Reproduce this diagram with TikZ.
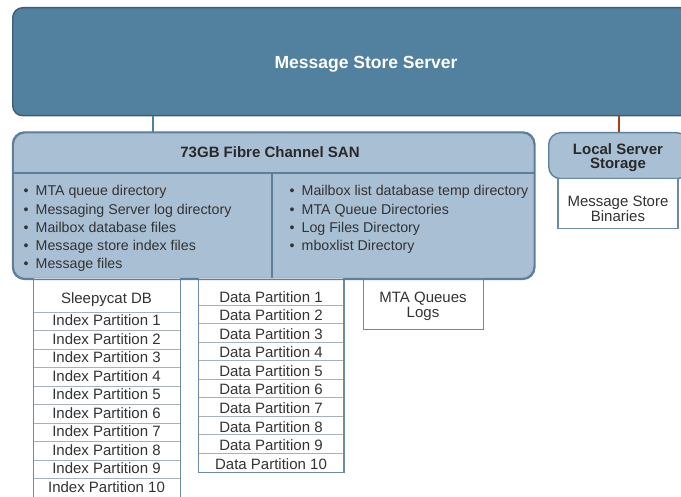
\documentclass[tikz,border=0pt]{standalone}
\usepackage{fontspec}
\setmainfont{Liberation Sans}
\definecolor{srvfill}{HTML}{52809F}
\definecolor{srvedge}{HTML}{3A5E78}
\definecolor{sanfill}{HTML}{A9BFD4}
\definecolor{sanedge}{HTML}{5E7F9B}
\definecolor{coledge}{HTML}{6A8AA8}
\definecolor{rowsep}{HTML}{A8B0B8}
\definecolor{txt}{HTML}{333333}
\definecolor{linkblue}{HTML}{4F81A5}
\definecolor{linkred}{HTML}{AC3F1A}
\begin{document}
\begin{tikzpicture}[x=1pt,y=-1pt,
  serverbox/.style={draw=srvedge, fill=srvfill, line width=1.4pt, rounded corners=10pt, inner sep=0pt},
  storebox/.style={draw=sanedge, fill=sanfill, line width=1.4pt, rounded corners=12pt, inner sep=0pt},
  plainbox/.style={draw=coledge, fill=white, line width=1.3pt, inner sep=0pt},
  sepline/.style={draw=rowsep, line width=0.9pt},
  coledgeline/.style={draw=coledge, line width=1.3pt},
  title/.style={text=white, font=\fontsize{17.5}{20}\selectfont\bfseries},
  head/.style={text=txt!80!black, font=\fontsize{15}{14.5}\selectfont\bfseries, align=center, inner sep=0pt},
  item/.style={text=txt, font=\fontsize{14.2}{17}\selectfont, inner sep=0pt},
  cell/.style={text=txt, font=\fontsize{15}{15}\selectfont, inner sep=0pt, align=center},
  link/.style={line width=2.6pt},
]
\useasboundingbox (0,0) rectangle (681,497);
\clip (0,0) rectangle (681,497);

% server box across the top
\node[serverbox, anchor=north west, minimum width=708pt, minimum height=108pt] (server) at (12,7) {};
\node[title] (servertitle) at (366,64) {Message Store Server};

% SAN box with header and two bullet panels
\node[storebox, anchor=north west, minimum width=521pt, minimum height=146pt] (san) at (12.5,132) {};
\coordinate (sanhead) at (0,173);
\draw[draw=sanedge, line width=1.2pt] (san.west |- sanhead) -- (san.east |- sanhead);
\coordinate (sandiv) at (272,173);
\draw[draw=sanedge, line width=1.2pt] (sandiv) -- (sandiv |- san.south);
\node[head] (santitle) at (270,152) {73GB Fibre Channel SAN};

\foreach \t [count=\i] in {MTA queue directory, Messaging Server log directory, Mailbox database files, Message store index files, Message files}
  \node[item, anchor=base west] (la\i) at (23.5,{177.8+18.2*\i}) {\makebox[12pt][l]{\textbullet}\t};
\foreach \t [count=\i] in {Mailbox list database temp directory, MTA Queue Directories, Log Files Directory, mboxlist Directory}
  \node[item, anchor=base west] (ra\i) at (289.5,{177.8+18.2*\i}) {\makebox[12pt][l]{\textbullet}\t};

% local server storage
\node[storebox, anchor=north west, minimum width=140pt, minimum height=46pt] (local) at (548,132) {};
\node[head] (localtitle) at (618,157.5) {Local Server\\Storage};
\node[plainbox, anchor=north, minimum width=120pt, minimum height=50pt] (bin) at (618,178) {};
\node[cell] (bintext) at (618,208.5) {Message Store\\Binaries};

% connectors from the server
\coordinate (santap) at (153,132);
\draw[link, linkblue] (server.south -| santap) -- (santap);
\coordinate (localtap) at (619,132);
\draw[link, linkred] (server.south -| localtap) -- (localtap);

% index partition column
\coordinate (ixl) at (33.5,278);
\coordinate (ixr) at (180.5,278);
\fill[white] (ixl) rectangle (180.5,500);
\draw[sepline] (33.5,312) -- (180.5,312);
\foreach \i in {1,...,9}
  \draw[sepline] (33.5,{312+18.5*\i}) -- (180.5,{312+18.5*\i});
\draw[coledgeline] (ixl) -- (33.5,500);
\draw[coledgeline] (ixr) -- (180.5,500);
\node[cell, anchor=base] (sleepy) at (106.5,304) {Sleepycat DB};
\foreach \i in {1,...,10}
  \node[cell, anchor=base] (ix\i) at (106.5,{307.5+18.5*\i}) {Index Partition \i};

% data partition column
\coordinate (dpl) at (198.5,278);
\coordinate (dpr) at (344,278);
\fill[white] (dpl) rectangle (344,472.5);
\foreach \i in {0,...,8}
  \draw[sepline] (198.5,{305+18.5*\i}) -- (344,{305+18.5*\i});
\draw[coledgeline] (dpl) -- (198.5,472.5) -- (344,472.5) -- (dpr);
\foreach \i in {1,...,10}
  \node[cell, anchor=base] (dp\i) at (271,{284+18.5*\i}) {Data Partition \i};

% MTA queue box
\node[plainbox, anchor=north west, minimum width=120pt, minimum height=51pt] (mta) at (363,278) {};
\node[cell] (mtatext) at (423,306) {MTA Queues\\Logs};

% redraw the SAN outline over the column tops
\draw[draw=sanedge, line width=1.4pt, rounded corners=12pt] (san.north west) rectangle (san.south east);
\end{tikzpicture}
\end{document}
